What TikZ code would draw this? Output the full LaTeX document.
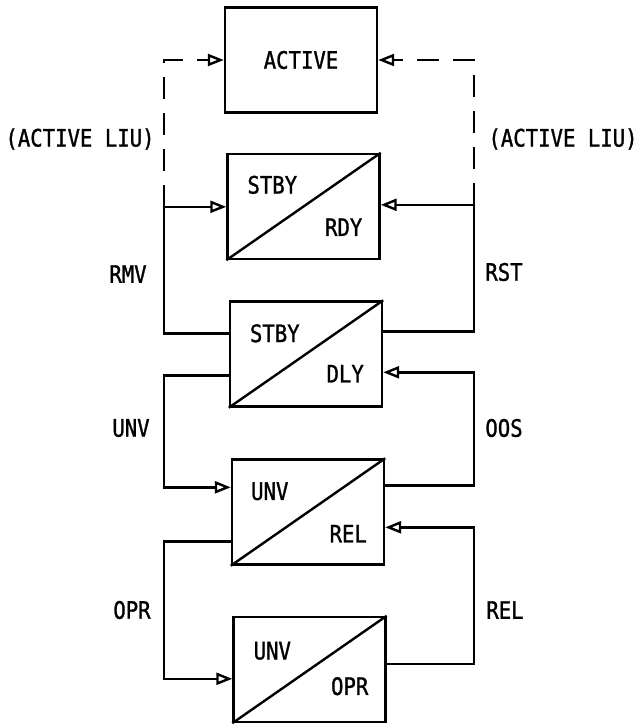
\documentclass[tikz,border=0pt]{standalone}
\usepackage{fontspec}
\newfontfamily\diagfont[FakeStretch=0.86, FakeBold=1.2]{DejaVu Sans Mono}
\usetikzlibrary{arrows.meta, calc}

\begin{document}
\begin{tikzpicture}[x=0.5pt, y=-0.5pt,
    state/.style={rectangle, draw, line width=1.2pt,
                  minimum width=76pt, minimum height=52.5pt, inner sep=0pt},
    lbl/.style={font=\diagfont\fontsize{12}{14}\selectfont, inner sep=0pt},
    link/.style={line width=1.2pt},
    flow/.style={link, -{Triangle[open, length=8pt, width=6pt]}},
    liu/.style={flow, dash pattern=on 11pt off 7pt}
]
\useasboundingbox (0,0) rectangle (639,724);

%% states
\node[state, lbl] (act) at (301,60)    {ACTIVE};
\node[state] (rdy) at (303.5,206.5) {};
\node[state] (dly) at (306,354)     {};
\node[state] (rel) at (308,512)     {};
\node[state] (opr) at (309.5,669.5) {};

\foreach \s in {rdy,dly,rel,opr}
  \draw[link] (\s.south west) -- (\s.north east);

\node[lbl] (rdyA) at ($(rdy.north west)+(46,32)$)  {STBY};
\node[lbl] (rdyB) at ($(rdy.south east)+(-37,-33)$) {RDY};
\node[lbl] (dlyA) at ($(dly.north west)+(46,33)$)  {STBY};
\node[lbl] (dlyB) at ($(dly.south east)+(-38,-34)$) {DLY};
\node[lbl] (relA) at ($(rel.north west)+(39,33)$)  {UNV};
\node[lbl] (relB) at ($(rel.south east)+(-37,-32)$) {REL};
\node[lbl] (oprA) at ($(opr.north west)+(40,35)$)  {UNV};
\node[lbl] (oprB) at ($(opr.south east)+(-37,-37)$) {OPR};

%% rails
\coordinate (lr) at (164,0);
\coordinate (rr) at (474,0);

%% RMV / RST
\coordinate (rmvin)  at ($(rdy.north west)+(0,54)$);
\coordinate (rstin)  at ($(rdy.north east)+(0,52)$);
\coordinate (rmvout) at ($(dly.north west)+(0,33)$);
\coordinate (rstout) at ($(dly.north east)+(0,31)$);
\draw[flow] (rmvout) -- (lr |- rmvout) -- (lr |- rmvin) -- (rmvin);
\draw[flow] (rstout) -- (rr |- rstout) -- (rr |- rstin) -- (rstin);

%% active LIU
\draw[liu] (lr |- rmvin) -- (lr |- act.west) -- (act.west);
\draw[liu] (rr |- rstin) -- (rr |- act.east) -- (act.east);

%% UNV / OOS
\coordinate (unvout) at ($(dly.north west)+(0,75)$);
\coordinate (oosin)  at ($(dly.north east)+(0,72)$);
\coordinate (unvin)  at ($(rel.north west)+(0,29)$);
\coordinate (oosout) at ($(rel.north east)+(0,27)$);
\draw[flow] (unvout) -- (lr |- unvout) -- (lr |- unvin) -- (unvin);
\draw[flow] (oosout) -- (rr |- oosout) -- (rr |- oosin) -- (oosin);

%% OPR / REL
\coordinate (oprout) at ($(rel.north west)+(0,83)$);
\coordinate (relin)  at ($(rel.north east)+(0,69)$);
\coordinate (oprin)  at ($(opr.north west)+(0,63)$);
\coordinate (relout) at ($(opr.north east)+(0,48)$);
\draw[flow] (oprout) -- (lr |- oprout) -- (lr |- oprin) -- (oprin);
\draw[flow] (relout) -- (rr |- relout) -- (rr |- relin) -- (relin);

%% transition labels
\node[lbl] (liuL) at (80,139)  {(ACTIVE LIU)};
\node[lbl] (liuR) at (563,139) {(ACTIVE LIU)};
\node[lbl] (rmv)  at (128,274) {RMV};
\node[lbl] (rst)  at (504,272) {RST};
\node[lbl] (unv)  at (131,428) {UNV};
\node[lbl] (oos)  at (504,428) {OOS};
\node[lbl] (opl)  at (132,610) {OPR};
\node[lbl] (rell) at (505,610) {REL};

\end{tikzpicture}
\end{document}
